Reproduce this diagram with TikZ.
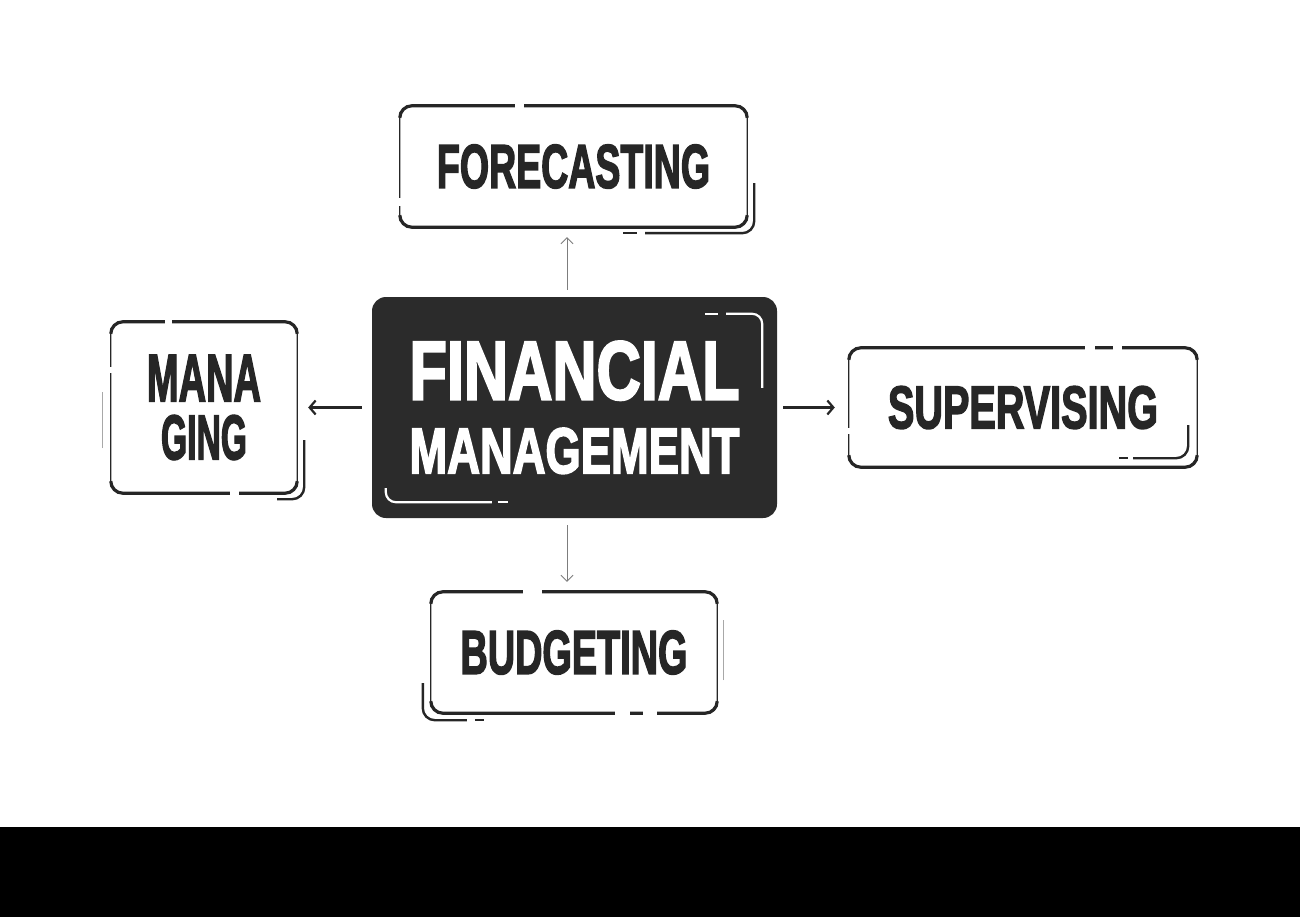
\documentclass[tikz,border=0pt]{standalone}
\usepackage{graphicx}
\usepackage{fontspec}
\setmainfont{Liberation Sans}[FakeBold=3]
\usetikzlibrary{arrows.meta}
\definecolor{ink}{HTML}{262626}
\definecolor{boxfill}{HTML}{2B2B2B}
\tikzstyle{box} = [rectangle, inner sep=0pt, text=ink, font=\bfseries, align=center]
\tikzstyle{darkbox} = [rectangle, inner sep=0pt, fill=boxfill, rounded corners=14pt, text=white, font=\bfseries, align=center]
\tikzstyle{edge} = [line width=3.2pt, color=ink, rounded corners=12pt]
\tikzstyle{side} = [line width=1.3pt, color=ink, rounded corners=12pt]
\tikzstyle{shadow} = [line width=2.4pt, color=ink, rounded corners=12pt]
\tikzstyle{faint} = [line width=1.2pt, color=ink!40]
\tikzstyle{whiteline} = [line width=2.2pt, color=white, rounded corners=10pt]
\tikzstyle{arrow} = [line width=2.2pt, color=ink, -{Straight Barb[length=6pt, width=14pt]}]
\tikzstyle{thinarrow} = [line width=0.9pt, color=ink!60, -{Straight Barb[length=6pt, width=12pt]}]
\newcommand{\drawFrame}[1]
{
    \draw [side] (#1.south west) rectangle (#1.north east);
    \draw [edge] ([yshift=-12pt]#1.north west) |- (#1.north east) -- ([yshift=-12pt]#1.north east);
    \draw [edge] ([yshift=12pt]#1.south west) |- (#1.south east) -- ([yshift=12pt]#1.south east);
}
\newcommand{\cutGap}[2]
{
    \draw [white, line width=6pt] (#1) -- (#2);
}

\begin{document}
\begin{tikzpicture}
\fill [white] (0,0) rectangle (1300pt,-917pt);
\useasboundingbox (0,0) rectangle (1300pt,-917pt);

\node (fin) [darkbox, minimum width=405pt, minimum height=221pt, xshift=574.5pt, yshift=-407.5pt] {\resizebox{330pt}{58pt}{FINANCIAL}\\[27pt]\resizebox{330pt}{45pt}{MANAGEMENT}};
\node (fc) [box, minimum width=347pt, minimum height=121pt, xshift=573.5pt, yshift=-166.5pt] {\resizebox{273pt}{43pt}{FORECASTING}};
\node (mg) [box, minimum width=186pt, minimum height=171pt, xshift=204pt, yshift=-407.5pt] {\resizebox{114pt}{46pt}{MANA}\\[13pt]\resizebox{86pt}{44pt}{GING}};
\node (sv) [box, minimum width=348pt, minimum height=119pt, xshift=1023pt, yshift=-407.5pt] {\resizebox{270pt}{42pt}{SUPERVISING}};
\node (bg) [box, minimum width=286pt, minimum height=121pt, xshift=574pt, yshift=-652.5pt] {\resizebox{227pt}{43pt}{BUDGETING}};

\drawFrame{fc}
\cutGap{[xshift=115pt]fc.north west}{[xshift=124pt]fc.north west}
\cutGap{[yshift=21pt]fc.south west}{[yshift=29pt]fc.south west}
\draw [shadow] ([xshift=7pt, yshift=44pt]fc.south east) |- ([xshift=-102pt, yshift=-6pt]fc.south east);
\draw [shadow] ([xshift=-124pt, yshift=-6pt]fc.south east) -- ++(14pt,0);

\drawFrame{mg}
\cutGap{[xshift=54pt]mg.north west}{[xshift=61pt]mg.north west}
\cutGap{[xshift=119pt]mg.south west}{[xshift=128pt]mg.south west}
\cutGap{[yshift=120pt]mg.south west}{[yshift=126pt]mg.south west}
\draw [faint] ([xshift=-8pt, yshift=45pt]mg.south west) -- ([xshift=-8pt, yshift=101pt]mg.south west);
\draw [shadow] ([xshift=7pt, yshift=53pt]mg.south east) |- ([xshift=-20pt, yshift=-6pt]mg.south east);

\drawFrame{sv}
\cutGap{[xshift=-112pt]sv.north east}{[xshift=-102pt]sv.north east}
\cutGap{[xshift=-84pt]sv.north east}{[xshift=-75pt]sv.north east}
\cutGap{[yshift=33pt]sv.south west}{[yshift=39pt]sv.south west}
\draw [shadow] ([xshift=-9pt, yshift=42pt]sv.south east) |- ([xshift=-64pt, yshift=9pt]sv.south east);
\draw [shadow] ([xshift=-78pt, yshift=9pt]sv.south east) -- ++(9pt,0);

\drawFrame{bg}
\cutGap{[xshift=92pt]bg.north west}{[xshift=111pt]bg.north west}
\cutGap{[xshift=184pt]bg.south west}{[xshift=199pt]bg.south west}
\cutGap{[xshift=212pt]bg.south west}{[xshift=226pt]bg.south west}
\draw [faint] ([xshift=6pt, yshift=33pt]bg.south east) -- ([xshift=6pt, yshift=93pt]bg.south east);
\draw [shadow] ([xshift=-8pt, yshift=30pt]bg.south west) |- ([xshift=36pt, yshift=-7pt]bg.south west);
\draw [shadow] ([xshift=44pt, yshift=-7pt]bg.south west) -- ++(9pt,0);

\draw [whiteline] ([xshift=-72pt, yshift=-17pt]fin.north east) -- ++(13pt,0);
\draw [whiteline] ([xshift=-51pt, yshift=-17pt]fin.north east) -| ([xshift=-15pt, yshift=-91pt]fin.north east);
\draw [whiteline] ([xshift=14pt, yshift=30pt]fin.south west) |- ([xshift=120pt, yshift=16pt]fin.south west);
\draw [whiteline] ([xshift=126pt, yshift=16pt]fin.south west) -- ++(10pt,0);

\draw [thinarrow, shorten <=7pt, shorten >=10pt] ([xshift=-7.5pt]fin.north) -- ([xshift=-6.5pt]fc.south);
\draw [thinarrow, shorten <=7pt, shorten >=10pt] ([xshift=-7.5pt]fin.south) -- ([xshift=-7pt]bg.north);
\draw [arrow, shorten <=10pt, shorten >=11pt] (fin.west) -- (mg.east);
\draw [arrow, shorten <=6pt, shorten >=14pt] (fin.east) -- (sv.west);

\fill [black] (0,-827pt) rectangle (1300pt,-917pt);

\end{tikzpicture}
\end{document}
